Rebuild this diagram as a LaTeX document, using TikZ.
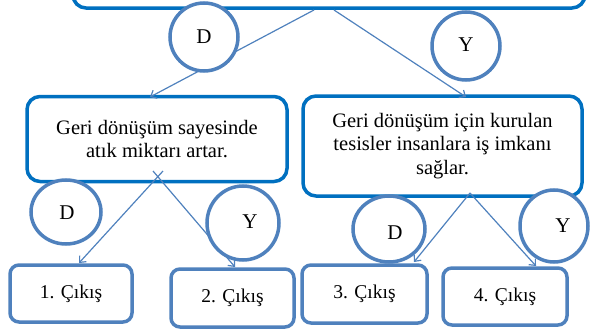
\documentclass[tikz,border=0pt]{standalone}
\usepackage{fontspec}
\setmainfont{Liberation Serif}
\usetikzlibrary{arrows.meta}
\definecolor{darkb}{HTML}{0070C0}
\definecolor{lightb}{HTML}{4F81BD}
\begin{document}
\begin{tikzpicture}[x=1pt,y=-1pt,
  bigbox/.style={draw=darkb,line width=3.5pt,rounded corners=13pt,fill=white,align=center,inner sep=0pt,font=\fontsize{20.5}{23.5}\selectfont},
  outbox/.style={draw=lightb,line width=3.5pt,rounded corners=9pt,fill=white,inner sep=0pt,font=\fontsize{19.5}{22}\selectfont},
  circ/.style={draw=lightb,line width=3.5pt,fill=white},
  lbl/.style={inner sep=0pt,font=\fontsize{21}{24}\selectfont},
  conn/.style={draw=lightb,line width=1.2pt,-{Straight Barb[length=5pt,width=9pt]}}
]
\useasboundingbox (0,0) rectangle (590,332);
\clip (0,0) rectangle (590,332);
% boxes
\node[bigbox,minimum width=512pt,minimum height=68pt] (top) at (329,-26) {};
\node[bigbox,minimum width=260pt,minimum height=85pt] (ml) at (157,139) {Geri dönüşüm sayesinde\\atık miktarı artar.};
\node[bigbox,minimum width=279pt,minimum height=100pt] (mr) at (442.5,146) {Geri dönüşüm için kurulan\\tesisler insanlara iş imkanı\\sağlar.};
\node[outbox,minimum width=122pt,minimum height=57pt] (o1) at (71,293.5) {1. Çıkış};
\node[outbox,minimum width=123pt,minimum height=58pt] (o2) at (232.5,298) {2. Çıkış};
\node[outbox,minimum width=125pt,minimum height=58pt] (o3) at (364.5,294) {3. Çıkış};
\node[outbox,minimum width=124pt,minimum height=57pt] (o4) at (505,296.5) {4. Çıkış};
% connector ends
\coordinate (s1) at (314,10);
\coordinate (e1) at (150,97);
\coordinate (s2) at (334,10);
\coordinate (e2) at (466,97);
\coordinate (s3) at (163,171);
\coordinate (e3) at (79,263);
\coordinate (s4) at (153,171);
\coordinate (e4) at (235,267);
\coordinate (s5) at (470,193);
\coordinate (e5) at (414,262);
\coordinate (e6) at (536,266);
\draw[conn] (s1) -- (e1);
\draw[conn] (s2) -- (e2);
\draw[conn] (s3) -- (e3);
\draw[conn] (s4) -- (e4);
\draw[conn] (s5) -- (e5);
\draw[conn] (s5) -- (e6);
% circles
\draw[circ] (204,37) ellipse [x radius=34, y radius=34];
\draw[circ] (466,46) ellipse [x radius=34, y radius=34];
\draw[circ] (66,212) ellipse [x radius=35, y radius=32];
\draw[circ] (243,223) ellipse [x radius=36, y radius=37];
\draw[circ] (389,229) ellipse [x radius=36, y radius=33];
\draw[circ] (554,226) ellipse [x radius=34, y radius=36];
\node[lbl] (d1) at (204,37) {D};
\node[lbl] (y1) at (466,45) {Y};
\node[lbl] (d2) at (67,213) {D};
\node[lbl] (y2) at (250,222) {Y};
\node[lbl] (d3) at (395,233) {D};
\node[lbl] (y3) at (563,226) {Y};
\end{tikzpicture}
\end{document}
